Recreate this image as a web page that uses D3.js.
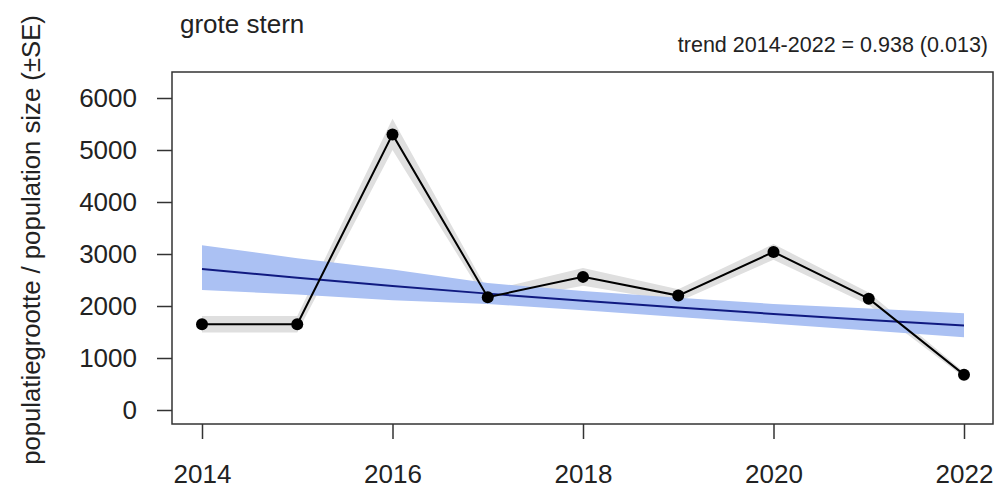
<!DOCTYPE html>
<html>
<head>
<meta charset="utf-8">
<script src="https://cdn.jsdelivr.net/npm/d3@7"></script>
<style>
body { margin: 0; background: #fff; }
text { font-family: "Liberation Sans", Arial, sans-serif; fill: #222; }
</style>
</head>
<body>
<script>
var years = [2014, 2015, 2016, 2017, 2018, 2019, 2020, 2021, 2022];
var counts = [1650, 1650, 5300, 2170, 2560, 2200, 3040, 2140, 680];
var countSE = [160, 160, 300, 120, 170, 120, 150, 120, 50];
var trendFit = [2712, 2544, 2386, 2238, 2099, 1969, 1847, 1733, 1625];
var trendUpper = [3170, 2920, 2700, 2440, 2290, 2160, 2040, 1950, 1860];
var trendLower = [2310, 2220, 2110, 2040, 1920, 1790, 1660, 1530, 1400];
var yTicks = [0, 1000, 2000, 3000, 4000, 5000, 6000];
var xTicks = [2014, 2016, 2018, 2020, 2022];
var title = "grote stern";
var trendLabel = "trend 2014-2022 = 0.938 (0.013)";
var yLabel = "populatiegrootte / population size (\u00b1SE)";

var width = 998;
var height = 492;

var svg = d3.select("body")
    .append("svg")
    .attr("width", width)
    .attr("height", height);

var x = d3.scaleLinear().domain([2014, 2022]).range([202, 964]);
var y = d3.scaleLinear().domain([0, 6000]).range([410, 98]);

var rows = years.map(function(yr, i) {
    return { year: yr, n: counts[i], se: countSE[i], fit: trendFit[i], hi: trendUpper[i], lo: trendLower[i] };
});

// grey SE band round the counts
svg.append("path")
    .datum(rows)
    .attr("fill", "#dfdfdf")
    .attr("d", d3.area()
        .x(function(d) { return x(d.year); })
        .y0(function(d) { return y(d.n - d.se); })
        .y1(function(d) { return y(d.n + d.se); }));

// blue trend band
svg.append("path")
    .datum(rows)
    .attr("fill", "#abc1f3")
    .attr("d", d3.area()
        .x(function(d) { return x(d.year); })
        .y0(function(d) { return y(d.lo); })
        .y1(function(d) { return y(d.hi); }));

svg.append("path")
    .datum(rows)
    .attr("fill", "none")
    .attr("stroke", "#101a80")
    .attr("stroke-width", 2)
    .attr("d", d3.line()
        .x(function(d) { return x(d.year); })
        .y(function(d) { return y(d.fit); }));

svg.append("path")
    .datum(rows)
    .attr("fill", "none")
    .attr("stroke", "#000")
    .attr("stroke-width", 2)
    .attr("d", d3.line()
        .x(function(d) { return x(d.year); })
        .y(function(d) { return y(d.n); }));

svg.selectAll("circle")
    .data(rows)
    .enter()
    .append("circle")
    .attr("cx", function(d) { return x(d.year); })
    .attr("cy", function(d) { return y(d.n); })
    .attr("r", 6)
    .attr("fill", "#000");

// box
svg.append("rect")
    .attr("x", 172)
    .attr("y", 72)
    .attr("width", 993 - 172)
    .attr("height", 424 - 72)
    .attr("fill", "none")
    .attr("stroke", "#333")
    .attr("stroke-width", 1.5);

var yAxis = svg.append("g")
    .attr("transform", "translate(172,0)")
    .call(d3.axisLeft(y).tickValues(yTicks).tickSize(15).tickPadding(20).tickFormat(d3.format("d")));
yAxis.select(".domain").remove();

var xAxis = svg.append("g")
    .attr("transform", "translate(0,424)")
    .call(d3.axisBottom(x).tickValues(xTicks).tickSize(15).tickPadding(26).tickFormat(d3.format("d")));
xAxis.select(".domain").remove();

svg.selectAll(".tick line").attr("stroke", "#333").attr("stroke-width", 1.5);
svg.selectAll(".tick text")
    .attr("font-size", "26px")
    .attr("font-family", "Liberation Sans, Arial, sans-serif")
    .attr("fill", "#222");

svg.append("text")
    .attr("x", 180)
    .attr("y", 33)
    .attr("font-size", "26px")
    .text(title);

svg.append("text")
    .attr("x", 988)
    .attr("y", 52)
    .attr("text-anchor", "end")
    .attr("font-size", "21.5px")
    .text(trendLabel);

svg.append("text")
    .attr("transform", "translate(40,240) rotate(-90)")
    .attr("text-anchor", "middle")
    .attr("font-size", "25.7px")
    .text(yLabel);
</script>
</body>
</html>
